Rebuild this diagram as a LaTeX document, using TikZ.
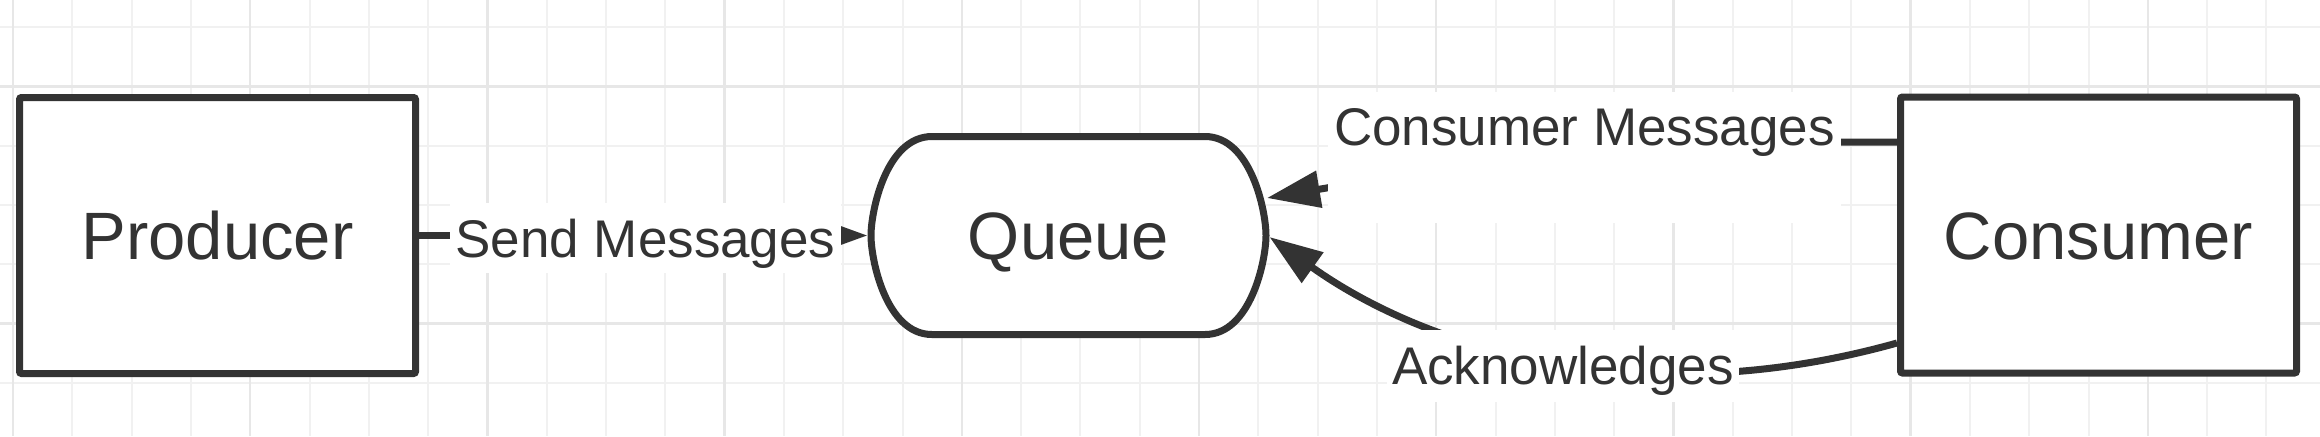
\documentclass[tikz,border=0pt]{standalone}
\usepackage{fontspec}
\setmainfont{Liberation Sans}
\usetikzlibrary{arrows.meta,calc}
\definecolor{ink}{HTML}{333333}
\definecolor{gridminor}{HTML}{F1F1F1}
\definecolor{gridmajor}{HTML}{E7E7E7}
\begin{document}
\begin{tikzpicture}[x=0.5pt,y=-0.5pt,
  minorline/.style={draw=gridminor, line width=1pt},
  majorline/.style={draw=gridmajor, line width=1.2pt},
  boxnode/.style={draw=ink, fill=white, line width=3.5pt, rounded corners=1pt,
    minimum width=198pt, minimum height=138pt, inner sep=0pt, text=ink,
    font=\fontsize{33.5}{40}\selectfont, text height=24pt, text depth=0pt},
  queuetext/.style={inner sep=0pt, text=ink, font=\fontsize{33.5}{40}\selectfont,
    text height=24pt, text depth=0pt},
  shapeline/.style={draw=ink, fill=white, line width=3.5pt},
  edge/.style={draw=ink, line width=3.5pt, -{Triangle[length=26.5pt,width=18pt]}},
  lbl/.style={fill=white, text=ink, font=\fontsize{26.5}{32}\selectfont,
    inner ysep=0pt, anchor=base}
]
\useasboundingbox (0,0) rectangle (2320,436);
\fill[white] (0,0) rectangle (2320,436);
% grid
\foreach \i in {0,...,38} \draw[minorline] ({13+59.3*\i},0) -- ({13+59.3*\i},436);
\foreach \j in {0,...,6} \draw[minorline] (0,{27+59.3*\j}) -- (2320,{27+59.3*\j});
\foreach \k in {0,...,9} \draw[majorline] ({13+237.2*\k},0) -- ({13+237.2*\k},436);
\foreach \k in {0,1} \draw[majorline] (0,{86.3+237.2*\k}) -- (2320,{86.3+237.2*\k});

% nodes
\node[boxnode] (producer) at (217.5,235.5) {Producer};
\node[boxnode] (consumer) at (2098.5,235) {Consumer};
\coordinate (qc) at (1068.5,235.5);
\filldraw[shapeline] ($(qc)+(-136.5,-99)$) -- ($(qc)+(136.5,-99)$)
  .. controls ($(qc)+(182.25,-99)$) and ($(qc)+(197.5,-24.75)$) .. ($(qc)+(197.5,0)$)
  .. controls ($(qc)+(197.5,24.75)$) and ($(qc)+(182.25,99)$) .. ($(qc)+(136.5,99)$)
  -- ($(qc)+(-136.5,99)$)
  .. controls ($(qc)+(-182.25,99)$) and ($(qc)+(-197.5,24.75)$) .. ($(qc)+(-197.5,0)$)
  .. controls ($(qc)+(-197.5,-24.75)$) and ($(qc)+(-182.25,-99)$) .. ($(qc)+(-136.5,-99)$)
  -- cycle;
\node[queuetext] (queue) at (qc) {Queue};

% connector end points
\coordinate (qin)  at ($(queue.center)+(-201,0)$);
\coordinate (qcm)  at ($(queue.center)+(198.5,-37.5)$);
\coordinate (qak)  at ($(queue.center)+(201,1.5)$);
\coordinate (cmstart) at ($(consumer.west)+(0,-93)$);
\coordinate (akstart) at ($(consumer.west)+(0,108)$);

% connectors
\draw[edge] (producer.east) -- (qin);
\draw[edge] (cmstart) -- ($(cmstart)+(-148,0)$)
  .. controls ($(cmstart)+(-348,0)$) and ($(qcm)+(155,-26)$) .. (qcm);
\draw[edge] (akstart)
  .. controls ($(akstart)+(-250,70)$) and ($(qak)+(163,116)$) .. (qak);

% labels
\node[lbl, inner xsep=2.5pt, text height=27pt, text depth=8pt] (lsend) at (645.5,257) {Send Messages};
\node[lbl, inner xsep=3pt, text height=26.5pt, text depth=39pt] (lcm) at (1584.5,145) {Consumer Messages};
\node[lbl, inner xsep=2.5pt, text height=27pt, text depth=9pt] (lack) at (1563,384) {Acknowledges};
\end{tikzpicture}
\end{document}
